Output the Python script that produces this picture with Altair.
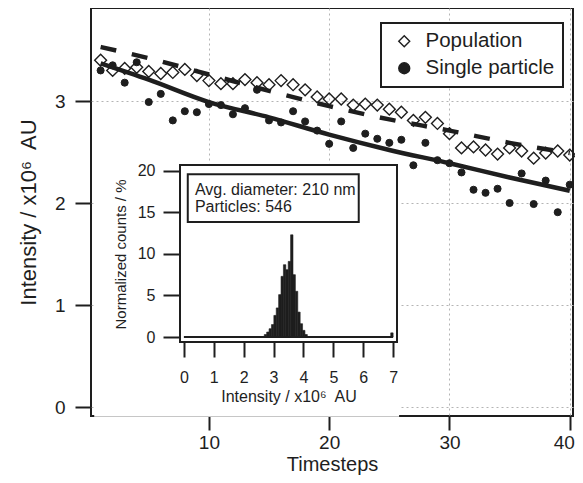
import altair as alt
import pandas as pd

# ---------------- data ----------------
timesteps = list(range(1, 41))
population = [3.40, 3.30, 3.32, 3.33, 3.29, 3.27, 3.28, 3.31, 3.25, 3.20,
              3.17, 3.17, 3.21, 3.18, 3.16, 3.20, 3.16, 3.11, 3.04, 3.02,
              3.02, 2.96, 2.97, 2.96, 2.92, 2.89, 2.81, 2.84, 2.78, 2.68,
              2.54, 2.55, 2.52, 2.48, 2.54, 2.51, 2.44, 2.49, 2.51, 2.47]
single_particle = [3.30, 3.35, 3.18, 3.38, 2.99, 3.07, 2.81, 2.90, 2.89, 2.97,
                   2.96, 2.87, 2.93, 3.11, 2.81, 2.79, 2.90, 2.80, 2.71, 2.58,
                   2.80, 2.54, 2.68, 2.63, 2.59, 2.62, 2.37, 2.59, 2.42, 2.39,
                   2.30, 2.13, 2.10, 2.14, 2.00, 2.29, 1.99, 2.22, 1.91, 2.18]
fit_t = [1, 5, 10, 15, 20, 25, 30, 35, 40]
fit_population = [3.53, 3.42, 3.26, 3.10, 2.95, 2.82, 2.71, 2.59, 2.49]
fit_single = [3.37, 3.21, 2.99, 2.84, 2.67, 2.52, 2.39, 2.25, 2.12]

hist_bin_start = [2.69, 2.77, 2.85, 2.93, 3.01, 3.09, 3.17, 3.25, 3.33, 3.41,
                  3.49, 3.57, 3.65, 3.73, 3.81, 3.89, 3.97, 4.05, 6.92]
hist_counts = [0.3, 0.6, 1.0, 1.5, 2.6, 3.5, 5.1, 7.3, 8.7, 8.1,
               9.1, 12.3, 7.5, 5.5, 3.0, 1.6, 0.8, 0.3, 0.5]
HIST_BIN_WIDTH = 0.08
hist_range = [0, 7]

series_names = ["Population", "Single particle"]
annotation_lines = ["Avg. diameter: 210 nm", "Particles: 546"]

# ---------------- layout constants ----------------
FONT = "Liberation Sans"
INK = "#1e1e1e"
INSET_X_DOMAIN = [-0.13, 7.13]
INSET_Y_DOMAIN = [-0.6, 20.7]

# ---------------- tables ----------------
pts_pop = pd.DataFrame({"t": timesteps, "value": population, "series": series_names[0]})
pts_sp = pd.DataFrame({"t": timesteps, "value": single_particle, "series": series_names[1]})
fit_pop = pd.DataFrame({"t": fit_t, "value": fit_population})
fit_sp = pd.DataFrame({"t": fit_t, "value": fit_single})

hist_df = pd.DataFrame({"xa": hist_bin_start,
                        "xb": [s + HIST_BIN_WIDTH for s in hist_bin_start],
                        "ya": [0] * len(hist_counts), "yb": hist_counts})
base_df = pd.DataFrame({"xa": [hist_range[0]], "xb": [hist_range[1]], "ya": [0]})
frame_df = pd.DataFrame({"xa": [INSET_X_DOMAIN[0]], "xb": [INSET_X_DOMAIN[1]],
                         "ya": [INSET_Y_DOMAIN[0]], "yb": [INSET_Y_DOMAIN[1]]})
bg_df = pd.DataFrame({"xa": [-3.0], "xb": [7.2], "ya": [-9.6], "yb": [20.9]})
box_df = pd.DataFrame({"xa": [0.13], "xb": [5.85], "ya": [13.84], "yb": [19.6]})
text_df = pd.DataFrame({"xa": [0.37, 0.37], "ya": [17.09, 15.04], "label": annotation_lines})

# ---------------- main plot ----------------
x_main = alt.X("t:Q", scale=alt.Scale(domain=[0.2, 40.27], nice=False, zero=False),
               axis=alt.Axis(values=[10, 20, 30, 40], title="Timesteps", grid=True,
                             gridDash=[2, 3], gridColor="#b4b4b4", gridWidth=1,
                             domain=False, tickSize=14, tickWidth=2, tickColor=INK,
                             labelFontSize=19, labelPadding=3,
                             labelOffset={"expr": "datum.value == 40 ? -6 : 0"},
                             titleFontSize=20, titleFontWeight="normal", titleY=54,
                             titleBaseline="alphabetic", zindex=0))
y_main = alt.Y("value:Q", scale=alt.Scale(domain=[-0.088, 3.912], nice=False, zero=False),
               axis=alt.Axis(values=[0, 1, 2, 3], title="Intensity / x10\u2076\u00a0 AU",
                             grid=True, gridDash=[2, 3], gridColor="#b4b4b4", gridWidth=1,
                             domain=False, tickSize=16, tickWidth=2, tickColor=INK,
                             labelFontSize=19, labelPadding=10, titleFontSize=22,
                             titleFontWeight="normal", titleX=-63, titleY=204,
                             titleBaseline="middle", zindex=0))

legend = alt.Legend(title=None, orient="none", legendX=290, legendY=15)
shape_enc = alt.Shape("series:N", scale=alt.Scale(domain=series_names, range=["diamond", "circle"]),
                      legend=legend)
fill_enc = alt.Fill("series:N", scale=alt.Scale(domain=series_names, range=["transparent", INK]),
                    legend=legend)
stroke_enc = alt.Stroke("series:N", scale=alt.Scale(domain=series_names, range=[INK, INK]),
                        legend=legend)

sp_layer = alt.Chart(pts_sp).mark_point(strokeWidth=1, size=50, opacity=1).encode(
    x=x_main, y=y_main, shape=shape_enc, fill=fill_enc, stroke=stroke_enc)
sp_fit = alt.Chart(fit_sp).mark_line(color=INK, strokeWidth=4.5, interpolate="monotone").encode(
    x=x_main, y=y_main)
pop_fit = alt.Chart(fit_pop).mark_line(color=INK, strokeWidth=4.5, strokeDash=[16, 16],
                                       interpolate="monotone").encode(x=x_main, y=y_main)
pop_layer = alt.Chart(pts_pop).mark_point(strokeWidth=1.4, size=140, opacity=1).encode(
    x=x_main, y=y_main, shape=shape_enc, fill=fill_enc, stroke=stroke_enc)

main = alt.layer(sp_layer, sp_fit, pop_fit, pop_layer)

# ---------------- inset ----------------
inset_x_axis = alt.Axis(values=list(range(8)), title="Intensity / x10\u2076\u00a0 AU", orient="bottom",
                        offset=-74, domain=False, grid=False, tickSize=15, tickWidth=2,
                        tickColor=INK, labelFontSize=16, labelPadding=12, titleFontSize=16,
                        titleFontWeight="normal", titleY=59, titleBaseline="alphabetic", zindex=1)
inset_y_axis = alt.Axis(values=[0, 5, 10, 15, 20], title="Normalized counts / %", orient="left",
                        offset=-89, domain=False, grid=False, tickSize=17, tickWidth=2,
                        tickColor=INK, labelFontSize=16, labelPadding=8, titleFontSize=15,
                        titleFontWeight="normal", titleX=-60, titleY=246,
                        titleBaseline="middle", zindex=1)
xi_scale = alt.Scale(domain=INSET_X_DOMAIN, range=[89, 306], nice=False, zero=False)
yi_scale = alt.Scale(domain=INSET_Y_DOMAIN, range=[334, 157], nice=False, zero=False)
xi = alt.X("xa:Q", scale=xi_scale, axis=inset_x_axis)
yi = alt.Y("ya:Q", scale=yi_scale, axis=inset_y_axis)

bg = alt.Chart(bg_df).mark_rect(color="white").encode(x=xi, x2="xb:Q", y=yi, y2="yb:Q")
bars = alt.Chart(hist_df).mark_rect(color=INK, stroke=INK, strokeWidth=0.6).encode(
    x=xi, x2="xb:Q", y=yi, y2="yb:Q")
baseline = alt.Chart(base_df).mark_rule(color=INK, strokeWidth=2).encode(x=xi, x2="xb:Q", y=yi)
frame = alt.Chart(frame_df).mark_rect(fillOpacity=0, stroke=INK, strokeWidth=2).encode(
    x=xi, x2="xb:Q", y=yi, y2="yb:Q")
box = alt.Chart(box_df).mark_rect(fill="white", stroke=INK, strokeWidth=2).encode(
    x=xi, x2="xb:Q", y=yi, y2="yb:Q")
texts = alt.Chart(text_df).mark_text(align="left", baseline="alphabetic", fontSize=16,
                                     color=INK, font=FONT).encode(x=xi, y=yi, text="label:N")

inset = alt.layer(bg, bars, baseline, frame, box, texts)

chart = alt.layer(main, inset).resolve_scale(x="independent", y="independent").properties(
    width=482, height=408,
    autosize=alt.AutoSizeParams(type="none"),
    padding={"left": 83, "top": 0, "right": 2, "bottom": 59},
).configure_view(stroke=INK, strokeWidth=2).configure_axis(
    labelFont=FONT, titleFont=FONT, labelColor=INK, titleColor=INK
).configure_legend(
    strokeColor=INK, strokeWidth=2, fillColor="white", padding=8, symbolOffset=5,
    labelOffset=11, labelFontSize=20.5, labelFont=FONT, labelColor=INK, symbolSize=120,
    rowPadding=6, symbolStrokeWidth=1.4, symbolStrokeColor=INK
)

chart.save("out.html", embed_options={"renderer": "svg", "actions": False})
